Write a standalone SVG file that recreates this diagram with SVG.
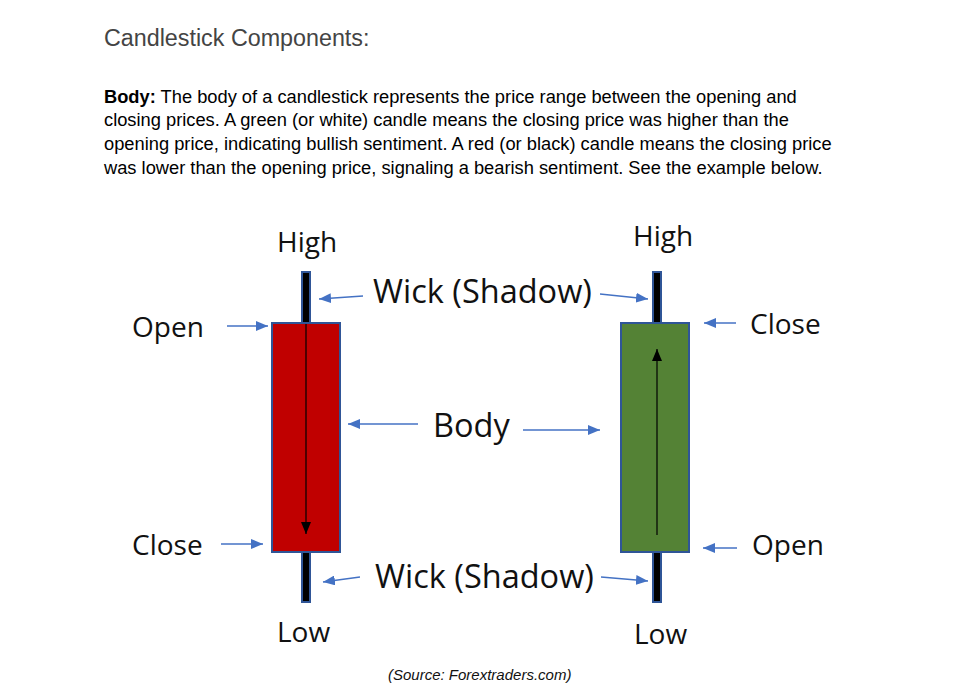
<svg xmlns="http://www.w3.org/2000/svg" width="971" height="700" viewBox="0 0 971 700">
<defs>
<marker id="ab" viewBox="0 0 12 10" refX="12" refY="5" markerWidth="12" markerHeight="10" markerUnits="userSpaceOnUse" orient="auto"><path d="M0,0 L12,5 L0,10 Z" fill="#4472C4"/></marker>
<marker id="ak" viewBox="0 0 12 10" refX="12" refY="5" markerWidth="12" markerHeight="10" markerUnits="userSpaceOnUse" orient="auto"><path d="M0,0 L12,5 L0,10 Z" fill="#000"/></marker>
<style>
.t{font-family:"Open Sans","Noto Sans",sans-serif;font-size:28px;fill:#111}
.b{font-size:32.5px}
.p{font-family:"Liberation Sans",Arial,sans-serif;font-size:18.3px;fill:#000}
.c{stroke:#4472C4;stroke-width:1.5;fill:none}
.w{fill:#000;stroke:#2F5597;stroke-width:2}
</style>
</defs>
<rect width="971" height="700" fill="#fff"/>
<text x="104" y="46" font-family="Liberation Sans,Arial,sans-serif" font-size="23.3" fill="#444">Candlestick Components:</text>
<g class="p">
<text x="104" y="103"><tspan font-weight="bold">Body:</tspan> The body of a candlestick represents the price range between the opening and</text>
<text x="104" y="126">closing prices. A green (or white) candle means the closing price was higher than the</text>
<text x="104" y="150">opening price, indicating bullish sentiment. A red (or black) candle means the closing price</text>
<text x="104" y="174">was lower than the opening price, signaling a bearish sentiment. See the example below.</text>
</g>
<g id="red-candle">
<rect class="w" x="302" y="272" width="8" height="51"/>
<rect class="w" x="302" y="552" width="8" height="50"/>
<rect x="272" y="323" width="68" height="229" fill="#C00000" stroke="#2F5597" stroke-width="2"/>
<line x1="306" y1="324" x2="306" y2="534" stroke="#000" stroke-width="1.2" marker-end="url(#ak)"/>
</g>
<g id="green-candle">
<rect class="w" x="653" y="272" width="8" height="51"/>
<rect class="w" x="653" y="552" width="8" height="50"/>
<rect x="621" y="323" width="68" height="229" fill="#548235" stroke="#2F5597" stroke-width="2"/>
<line x1="657" y1="535" x2="657" y2="349" stroke="#000" stroke-width="1.2" marker-end="url(#ak)"/>
</g>
<g id="labels" class="t">
<text x="277" y="252">High</text>
<text x="633" y="246">High</text>
<text class="b" x="373" y="303">Wick (Shadow)</text>
<text x="132" y="337">Open</text>
<text x="750" y="334">Close</text>
<text class="b" x="433" y="437">Body</text>
<text x="132" y="555">Close</text>
<text x="752" y="555">Open</text>
<text class="b" x="375" y="588">Wick (Shadow)</text>
<text x="277" y="642">Low</text>
<text x="634" y="644">Low</text>
</g>
<g id="connectors" class="c">
<line x1="227" y1="326" x2="268" y2="326" marker-end="url(#ab)"/>
<line x1="363" y1="296" x2="319" y2="299" marker-end="url(#ab)"/>
<line x1="600" y1="294" x2="648" y2="299" marker-end="url(#ab)"/>
<line x1="736" y1="323" x2="704" y2="323" marker-end="url(#ab)"/>
<line x1="418" y1="424" x2="348" y2="424" marker-end="url(#ab)"/>
<line x1="523" y1="430" x2="600" y2="430" marker-end="url(#ab)"/>
<line x1="221" y1="544" x2="263" y2="544" marker-end="url(#ab)"/>
<line x1="360" y1="577" x2="323" y2="582" marker-end="url(#ab)"/>
<line x1="737" y1="548" x2="703" y2="548" marker-end="url(#ab)"/>
<line x1="601" y1="577" x2="648" y2="581" marker-end="url(#ab)"/>
</g>
<text x="388" y="680" font-family="Liberation Sans,Arial,sans-serif" font-size="15" font-style="italic" fill="#111">(Source: Forextraders.com)</text>
</svg>
